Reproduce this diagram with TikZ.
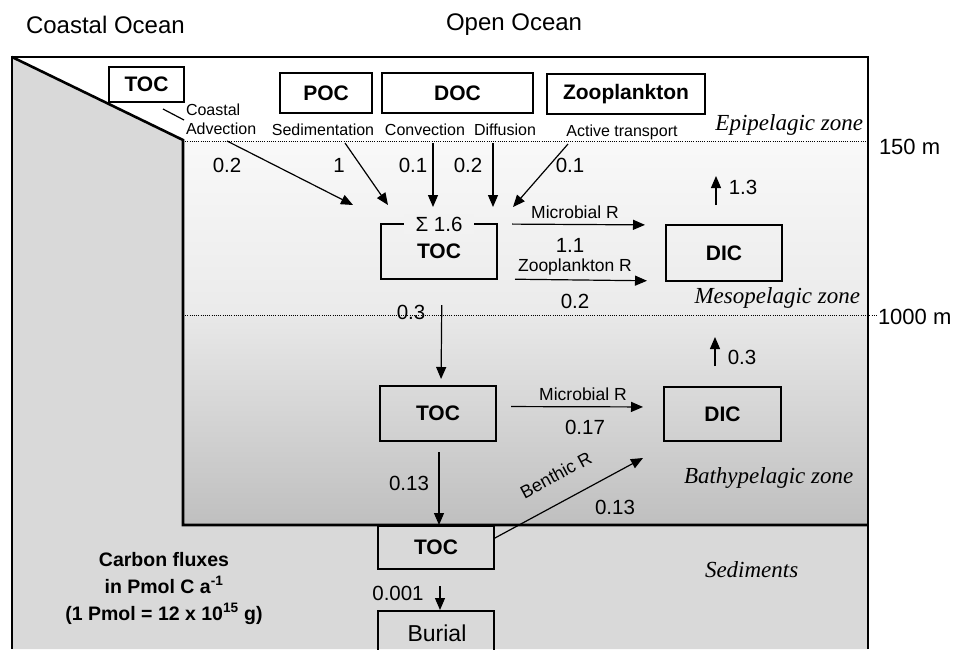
\documentclass[tikz,border=0pt]{standalone}
\usepackage{fontspec}
\setmainfont{Liberation Sans}
\newfontfamily\zonefont{Liberation Serif}
\usetikzlibrary{positioning,arrows.meta}
\definecolor{coastgray}{gray}{0.85}
\definecolor{mesotop}{gray}{0.975}
\definecolor{mesomid}{gray}{0.95}
\definecolor{mesobottom}{gray}{0.92}
\definecolor{bathytop}{gray}{0.91}
\definecolor{bathybottom}{gray}{0.75}
\tikzset{
  oceanpic/.style={
    x=1pt,y=-1pt
    ,inner sep=0pt
    ,outer sep=0pt
  }
  ,pool/.style={draw=black,line width=1.5pt,font=\fontsize{21}{24}\selectfont\bfseries}
  ,process/.style={font=\fontsize{16}{19}\selectfont}
  ,respiration/.style={font=\fontsize{17.5}{20}\selectfont}
  ,amount/.style={font=\fontsize{20.5}{23}\selectfont}
  ,flux/.style={line width=1.2pt,-{Triangle[length=12pt,width=10pt]}}
  ,zonename/.style={font=\fontsize{23}{26}\selectfont\zonefont\itshape}
  ,depthname/.style={font=\fontsize{22}{24}\selectfont}
  ,oceanname/.style={font=\fontsize{24}{28}\selectfont}
  ,isobath/.style={line width=0.8pt,dash pattern=on 0.8pt off 1.4pt}
  ,seafloor/.style={line width=2.6pt,line join=miter}
}
\begin{document}
\begin{tikzpicture}[oceanpic]
  \clip (0,0) rectangle (953,649);
  % water and sediment background
  \fill[white] (0,0) rectangle (953,649);
  \fill[coastgray] (12,57) -- (183,140) -- (183,525) -- (868,525) -- (868,649) -- (12,649) -- cycle;
  \shade[top color=mesotop,bottom color=mesobottom] (183,141) rectangle (868,315);
  \shade[top color=bathytop,bottom color=bathybottom] (183,315) rectangle (868,525);
  \draw[line width=1.1pt] (12,649) -- (12,57) -- (868,57) -- (868,649);
  \draw[seafloor] (12,57) -- (183,140) -- (183,525) -- (868,525);
  \coordinate (iso150) at (868,141);
  \coordinate (iso1000) at (877,315);
  \draw[isobath] (183,141) -- (iso150);
  \draw[isobath] (183,315) -- (iso1000);
  \node[depthname,right=11pt of iso150,yshift=-6pt] (depth150) {150 m};
  \node[depthname,right=1pt of iso1000,yshift=-2pt] (depth1000) {1000 m};

  \node[oceanname,anchor=west] (coastname) at (26,25) {Coastal Ocean};
  \node[oceanname,anchor=west] (openname) at (446,25) {Open Ocean};

  % zones
  \node[zonename,anchor=east] (epizone) at (863,125) {Epipelagic zone};
  \node[zonename,anchor=east] (mesozone) at (860,298) {Mesopelagic zone};
  \node[zonename,anchor=west] (bathyzone) at (684,478) {Bathypelagic zone};
  \node[zonename,anchor=west] (sedzone) at (705,570) {Sediments};

  % carbon pools
  \node[pool,minimum width=75pt,minimum height=35pt] (coasttoc) at (146.5,84.5) {TOC};
  \node[pool,minimum width=92pt,minimum height=40pt] (epipoc) at (326,93) {POC};
  \node[pool,minimum width=151pt,minimum height=40pt] (epidoc) at (457.5,93) {DOC};
  \node[pool,minimum width=158pt,minimum height=40pt] (epizoo) at (626,94) {Zooplankton};
  \node[pool,minimum width=116pt,minimum height=55pt] (mesotoc) at (439,251.5) {TOC};
  \node[pool,minimum width=116pt,minimum height=56pt] (mesodic) at (724,253) {DIC};
  \node[pool,minimum width=116pt,minimum height=55pt] (bathytoc) at (438,413.5) {TOC};
  \node[pool,minimum width=117pt,minimum height=54pt] (bathydic) at (722.5,414) {DIC};
  \node[pool,minimum width=116pt,minimum height=43pt] (sedtoc) at (436,547.5) {TOC};
  \node[pool,minimum width=116pt,minimum height=60pt] (sedburial) at (436,641) {};
  \node[font=\fontsize{23}{26}\selectfont] (burialname) at (437,633) {Burial};
  \node[amount,fill=mesomid,inner xsep=12pt,inner ysep=3pt] (mesosum) at (mesotoc.north) {Σ 1.6};

  % input to the mesopelagic
  \coordinate (advcut1) at (163,109);
  \coordinate (advcut2) at (184,120);
  \coordinate (advfrom) at (227,141);
  \coordinate (advto) at (353,205);
  \coordinate (sedfrom) at (345,143);
  \coordinate (sedto) at (388,205);
  \coordinate (convfrom) at (433,143);
  \coordinate (convto) at (433,207);
  \coordinate (difffrom) at (493,143);
  \coordinate (diffto) at (493,207);
  \coordinate (actfrom) at (568,144);
  \coordinate (actto) at (513,207);
  \draw[line width=1.2pt] (advcut1) -- (advcut2);
  \draw[flux] (advfrom) -- (advto);
  \draw[flux] (sedfrom) -- (sedto);
  \draw[flux] (convfrom) -- (convto);
  \draw[flux] (difffrom) -- (diffto);
  \draw[flux] (actfrom) -- (actto);
  \node[process,anchor=west,align=left] (advname) at (186,119.5) {Coastal\\Advection};
  \node[process] (sedname) at (323,130) {Sedimentation};
  \node[process] (convname) at (425,130) {Convection};
  \node[process] (diffname) at (505,130) {Diffusion};
  \node[process] (actname) at (622,132) {Active transport};
  \node[amount] (advamount) at (227,165) {0.2};
  \node[amount] (sedamount) at (339,165) {1};
  \node[amount] (convamount) at (413,165) {0.1};
  \node[amount] (diffamount) at (468,165) {0.2};
  \node[amount] (actamount) at (570,165) {0.1};

  % mesopelagic respiration
  \draw[flux,shorten <=15pt,shorten >=21pt] (mesotoc.north east) -- (mesodic.north west);
  \draw[flux,shorten <=18pt,shorten >=19pt] (mesotoc.south east) -- (mesodic.south west);
  \coordinate (mesoupto) at (716,176);
  \draw[flux,shorten <=20pt] ([xshift=-8pt]mesodic.north) -- (mesoupto);
  \node[respiration] (mesomicro) at (575,212) {Microbial R};
  \node[amount] (mesomicroamount) at (570,245) {1.1};
  \node[respiration] (mesozoo) at (575,267) {Zooplankton R};
  \node[amount] (mesozooamount) at (575,301) {0.2};
  \node[amount] (mesoupamount) at (743,187) {1.3};

  % bathypelagic
  \draw[flux,shorten <=26pt,shorten >=7pt] ([xshift=3pt]mesotoc.south) -- ([xshift=3pt]bathytoc.north);
  \draw[flux,shorten <=15pt,shorten >=21pt] ([yshift=7pt]bathytoc.east) -- ([yshift=7pt]bathydic.west);
  \coordinate (bathyupto) at (715,337);
  \draw[flux,shorten <=21pt] ([xshift=-7.5pt]bathydic.north) -- (bathyupto);
  \draw[flux,shorten <=11pt,shorten >=1pt] ([xshift=1pt]bathytoc.south) -- ([xshift=3pt]sedtoc.north);
  \node[amount] (bathyinamount) at (411,312) {0.3};
  \node[respiration] (bathymicro) at (583,394) {Microbial R};
  \node[amount] (bathymicroamount) at (585,427) {0.17};
  \node[amount] (bathyupamount) at (742,357) {0.3};
  \node[amount] (bathyoutamount) at (409,483) {0.13};

  % sediments
  \coordinate (benthicto) at (643,458);
  \draw[flux] ([yshift=9pt]sedtoc.east) -- node[respiration,font=\fontsize{18}{20}\selectfont,sloped,pos=0.5,above=20pt] (benthicname) {Benthic R} (benthicto);
  \node[amount] (benthicamount) at (615,507) {0.13};
  \draw[flux,shorten <=17pt,shorten >=1pt] ([xshift=4pt]sedtoc.south) -- ([xshift=4pt]sedburial.north);
  \node[amount] (burialamount) at (398,593) {0.001};
  \node[align=center,font=\fontsize{19.5}{27}\selectfont\bfseries] (fluxunit) at (164,588)
    {Carbon fluxes\\in Pmol C a\textsuperscript{-1}\\(1 Pmol = 12 x 10\textsuperscript{15} g)};
\end{tikzpicture}
\end{document}
